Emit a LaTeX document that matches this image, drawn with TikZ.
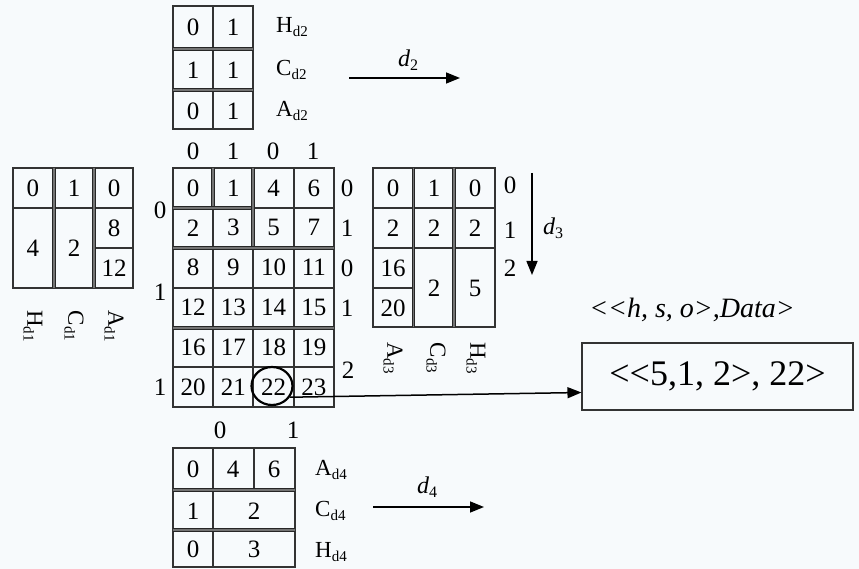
\documentclass[tikz,border=0pt]{standalone}
\usepackage{fontspec}
\setmainfont{Liberation Serif}
\usetikzlibrary{arrows.meta,shapes.geometric}
\definecolor{paper}{RGB}{247,250,252}
\newcommand\sbs[1]{\raisebox{-0.35ex}{\fontsize{15}{15}\selectfont #1}}
\newcommand\dsub[1]{{\itshape d}\raisebox{-0.35ex}{\fontsize{16}{16}\selectfont #1}}
\tikzset{
  rule/.style={line width=1.1pt, draw=black!80},
  dbl/.style={draw=black!85, line width=1pt, double=black!55, double distance=1.5pt},
  num/.style={font=\fontsize{25}{25}\selectfont, inner sep=0pt},
  lab/.style={font=\fontsize{23}{23}\selectfont, inner sep=0pt, anchor=west},
  vlab/.style={font=\fontsize{23}{23}\selectfont, inner sep=0pt, rotate=-90},
  dirarrow/.style={line width=1.5pt, -{Triangle[length=14pt,width=11pt]}},
}
\begin{document}
\begin{tikzpicture}[x=1pt,y=-1pt]
\useasboundingbox (0,0) rectangle (859,569);
\fill[paper] (0,0) rectangle (859,569);

% ---------- d2 table (top) ----------
\draw[rule] (173,6) rectangle (253,129);
\draw[rule] (213,6) -- (213,129);
\draw[dbl] (173,49) -- (253,49);
\draw[dbl] (173,90) -- (253,90);
\node[num] (t11) at (193,27) {0};  \node[num] (t12) at (233,27) {1};
\node[num] (t21) at (193,70) {1};  \node[num] (t22) at (233,70) {1};
\node[num] (t31) at (193,111) {0}; \node[num] (t32) at (233,111) {1};
\node[lab] (hd2) at (276,27) {H\sbs{d2}};
\node[lab] (cd2) at (276,70) {C\sbs{d2}};
\node[lab] (ad2) at (276,111) {A\sbs{d2}};
\coordinate (d2s) at (349,78);
\coordinate (d2e) at (460,78);
\draw[dirarrow] (d2s) -- (d2e);
\node[font=\fontsize{24}{24}\selectfont, inner sep=0pt] (d2l) at (408,60) {\dsub{2}};

% column indices above the main grid
\node[num] (ca1) at (193,151) {0};
\node[num] (ca2) at (233,151) {1};
\node[num] (ca3) at (273,151) {0};
\node[num] (ca4) at (313,151) {1};

% ---------- main grid ----------
\draw[rule] (173,168) rectangle (334,407);
\foreach \x in {213,253,294} \draw[rule] (\x,168) -- (\x,407);
\foreach \y in {208,248,288,328,367} \draw[rule] (173,\y) -- (334,\y);
\draw[dbl] (213,168) -- (213,208);
\draw[dbl] (173,208) -- (253,208);
\draw[dbl] (253,168) -- (253,248);
\draw[dbl] (173,248) -- (334,248);
\draw[dbl] (173,328) -- (334,328);

\foreach \v [count=\i from 0] in {0,1,4,6, 2,3,5,7, 8,9,10,11, 12,13,14,15, 16,17,18,19, 20,21,22,23}{
  \pgfmathtruncatemacro\cc{mod(\i,4)}
  \pgfmathtruncatemacro\rr{div(\i,4)}
  \node[num] (g\v) at ({193+40.3*\cc},{188+39.8*\rr}) {\v};
}
\node[draw, ellipse, line width=2.2pt, minimum width=41pt, minimum height=38pt, inner sep=0pt] (c22) at (272,386) {};

% row indices of the main grid
\node[num] (rl1) at (160,210) {0};
\node[num] (rl2) at (160,292) {1};
\node[num] (rl3) at (160,387) {1};
\node[num] (rr1) at (347,188) {0};
\node[num] (rr2) at (347,228) {1};
\node[num] (rr3) at (347,268) {0};
\node[num] (rr4) at (347,308) {1};
\node[num] (rr5) at (348,370) {2};
% column indices below the main grid
\node[num] (cb1) at (220,430) {0};
\node[num] (cb2) at (293,430) {1};

% ---------- d1 table (left) ----------
\draw[rule] (13,168) rectangle (133,288);
\draw[rule] (13,208) -- (133,208);
\draw[rule] (94,248) -- (133,248);
\draw[dbl] (54,168) -- (54,288);
\draw[dbl] (94,168) -- (94,288);
\node[num] (l11) at (33,188) {0};
\node[num] (l12) at (74,188) {1};
\node[num] (l13) at (114,188) {0};
\node[num] (l21) at (33,248) {4};
\node[num] (l22) at (74,248) {2};
\node[num] (l23) at (114,228) {8};
\node[num] (l33) at (114,268) {12};
\node[vlab] (hd1) at (33,326) {H\sbs{d1}};
\node[vlab] (cd1) at (74,326) {C\sbs{d1}};
\node[vlab] (ad1) at (114,326) {A\sbs{d1}};

% ---------- d3 table (right) ----------
\draw[rule] (373,168) rectangle (495,327);
\draw[rule] (373,208) -- (495,208);
\draw[rule] (373,248) -- (495,248);
\draw[rule] (373,288) -- (413.5,288);
\draw[dbl] (413.5,168) -- (413.5,327);
\draw[dbl] (454,168) -- (454,327);
\node[num] (r11) at (393,188) {0};
\node[num] (r12) at (434,188) {1};
\node[num] (r13) at (475,188) {0};
\node[num] (r21) at (393,228) {2};
\node[num] (r22) at (434,228) {2};
\node[num] (r23) at (475,228) {2};
\node[num] (r31) at (393,268) {16};
\node[num] (r41) at (393,308) {20};
\node[num] (r32) at (434,288) {2};
\node[num] (r33) at (475,288) {5};
\node[num] (rx1) at (510,185) {0};
\node[num] (rx2) at (510,230) {1};
\node[num] (rx3) at (510,268) {2};
\coordinate (d3s) at (532,173);
\coordinate (d3e) at (532,275);
\draw[dirarrow] (d3s) -- (d3e);
\node[font=\fontsize{24}{24}\selectfont, inner sep=0pt] (d3l) at (553,228) {\dsub{3}};
\node[vlab] (ad3) at (393,358) {A\sbs{d3}};
\node[vlab] (cd3) at (436,358) {C\sbs{d3}};
\node[vlab] (hd3) at (476,358) {H\sbs{d3}};

% ---------- d4 table (bottom) ----------
\draw[rule] (173,448) rectangle (295,567);
\draw[rule] (213,448) -- (213,567);
\draw[rule] (254,448) -- (254,490);
\draw[dbl] (173,490) -- (295,490);
\draw[dbl] (173,530) -- (295,530);
\node[num] (b11) at (193,469) {0};
\node[num] (b12) at (233,469) {4};
\node[num] (b13) at (274,469) {6};
\node[num] (b21) at (193,511) {1};
\node[num] (b22) at (254,511) {2};
\node[num] (b31) at (193,549) {0};
\node[num] (b32) at (254,549) {3};
\node[lab] (ad4) at (315,470) {A\sbs{d4}};
\node[lab] (cd4) at (315,511) {C\sbs{d4}};
\node[lab] (hd4) at (315,552) {H\sbs{d4}};
\coordinate (d4s) at (373,507);
\coordinate (d4e) at (484,507);
\draw[dirarrow] (d4s) -- (d4e);
\node[font=\fontsize{24}{24}\selectfont, inner sep=0pt] (d4l) at (427,487) {\dsub{4}};

% ---------- addressed record ----------
\node[draw, rule, minimum width=271pt, minimum height=67pt, inner sep=0pt,
      font=\fontsize{36}{36}\selectfont] (res) at (717.5,376.5) {<{}<5,1, 2>, 22>};
\node[font=\itshape\fontsize{28}{28}\selectfont, inner sep=0pt] (fmt) at (692,310) {<{}<h, s, o>,Data>};
\draw[line width=1.5pt, -{Triangle[length=14pt,width=11pt]}] (c22.-32) -- ([yshift=-16pt]res.west);
\end{tikzpicture}
\end{document}
